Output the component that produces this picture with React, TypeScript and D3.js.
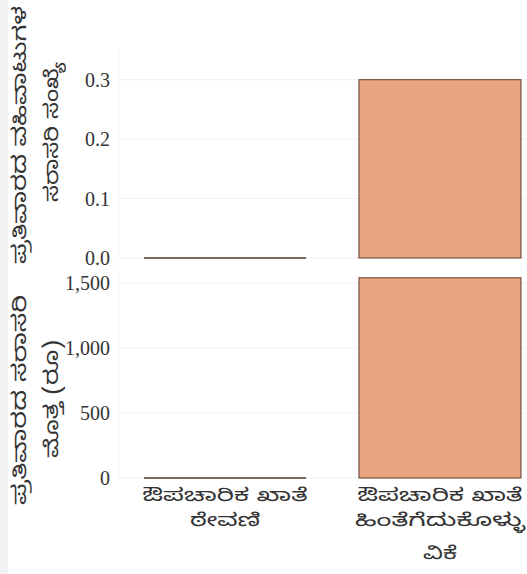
import React from "react";
import * as d3 from "d3";

const categories = ["ಔಪಚಾರಿಕ ಖಾತೆ ಠೇವಣಿ", "ಔಪಚಾರಿಕ ಖಾತೆ ಹಿಂತೆಗೆದುಕೊಳ್ಳುವಿಕೆ"];
const categoryLines = [["ಔಪಚಾರಿಕ ಖಾತೆ", "ಠೇವಣಿ"], ["ಔಪಚಾರಿಕ ಖಾತೆ", "ಹಿಂತೆಗೆದುಕೊಳ್ಳು", "ವಿಕೆ"]];
const countValues = [0, 0.3];
const amountValues = [0, 1540];
const countTicks = [0, 0.1, 0.2, 0.3];
const amountTicks = [0, 500, 1000, 1500];
const countTitle = ["ಪ್ರತಿವಾರದ ವಹಿವಾಟುಗಳ", "ಸರಾಸರಿ ಸಂಖ್ಯೆ"];
const amountTitle = ["ಪ್ರತಿವಾರದ ಸರಾಸರಿ", "ಮೊತ್ತ (ರೂ)"];

const W = 527;
const H = 574;
const KN = "'Noto Sans Kannada', 'Noto Serif Kannada', Tunga, 'Lohit Kannada', sans-serif";
const SERIF = "'Liberation Serif', 'Times New Roman', 'DejaVu Serif', serif";
const FILL = "#e9a580";
const STROKE = "#5b3b2b";

// visual lengths of the wide Kannada font lines in the reference
const titleLens = [[258, 140], [210, 118]];
const catLens = [[165, 70], [165, 170, 34]];
const catBaselines = [501, 526, 559];

export default function App() {
  const x = d3.scaleBand<string>().domain(categories).range([120, 527]).paddingInner(0.246).paddingOuter(0.07).align(0.8);
  const panels = [
    { values: countValues, ticks: countTicks, fmt: d3.format(".1f"), y: d3.scaleLinear().domain([0, 0.35]).range([258, 50]), title: countTitle, tcy: [135, 132] },
    { values: amountValues, ticks: amountTicks, fmt: d3.format(","), y: d3.scaleLinear().domain([0, 1600]).range([478, 270]), title: amountTitle, tcy: [400, 399] },
  ];
  return (
    <svg width={W} height={H} style={{ position: "absolute", left: 0, top: 0, background: "#fff" }}>
      <rect x={0} y={0} width={8} height={H} fill="#f1f1f1" />
      {panels.map((p, pi) => {
        const [y0, y1] = p.y.range();
        return (
          <g key={pi}>
            <line x1={119} x2={119} y1={y1} y2={y0} stroke="#f2f2f2" />
            {p.ticks.map((t) => (
              <g key={t}>
                <line x1={119} x2={527} y1={p.y(t)} y2={p.y(t)} stroke="#f2f2f2" />
                <text x={110} y={p.y(t)} dy="0.35em" textAnchor="end" fontFamily={SERIF} fontSize={20} fill="#333">
                  {p.fmt(t)}
                </text>
              </g>
            ))}
            {categories.map((c, i) => {
              const v = p.values[i];
              const bx = x(c)!;
              const bw = x.bandwidth();
              if (v === 0) {
                return <line key={c} x1={bx} x2={bx + bw} y1={p.y(0)} y2={p.y(0)} stroke="#7d6a5f" strokeWidth={1.8} />;
              }
              return (
                <rect key={c} x={bx} y={p.y(v)} width={bw} height={p.y(0) - p.y(v)} fill={FILL} stroke={STROKE} strokeWidth={1} />
              );
            })}
            {p.title.map((line, li) => (
              <text
                key={li}
                transform={`translate(${li === 0 ? 19 : 51},${p.tcy[li]}) rotate(-90)`}
                x={-titleLens[pi][li] / 2}
                dy="0.35em"
                fontFamily={KN}
                fontSize={19}
                fill="#333"
                textLength={titleLens[pi][li]}
                lengthAdjust="spacingAndGlyphs"
              >
                {line}
              </text>
            ))}
          </g>
        );
      })}
      {categories.map((c, i) =>
        categoryLines[i].map((l, li) => (
          <text
            key={c + li}
            x={x(c)! + x.bandwidth() / 2 - catLens[i][li] / 2}
            y={catBaselines[li]}
            fontFamily={KN}
            fontSize={18}
            fill="#333"
            textLength={catLens[i][li]}
            lengthAdjust="spacingAndGlyphs"
          >
            {l}
          </text>
        ))
      )}
    </svg>
  );
}
